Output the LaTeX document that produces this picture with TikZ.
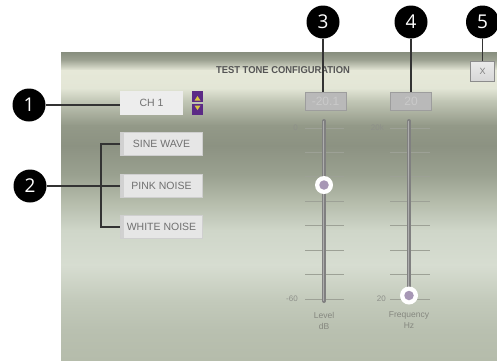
\documentclass[tikz,border=0pt]{standalone}
\usepackage{fontspec}
\setmainfont{Liberation Sans}
\newfontfamily\numfont{Open Sans}
\definecolor{txtgray}{HTML}{707070}
\definecolor{titlegray}{HTML}{555555}
\definecolor{btnfill}{HTML}{E6E6E6}
\definecolor{btnline}{HTML}{CFCFCF}
\definecolor{valbox}{HTML}{B9B9B9}
\definecolor{valtxt}{HTML}{CACACA}
\definecolor{tickc}{HTML}{9DA196}
\definecolor{scaletxt}{HTML}{8E908A}
\definecolor{lbltxt}{HTML}{85877F}
\definecolor{knobc}{HTML}{A797B5}
\definecolor{arrowpurple}{HTML}{5B2A86}
\definecolor{arrowyellow}{HTML}{D9C640}
\definecolor{conn}{HTML}{333333}
\definecolor{p0}{HTML}{878E7E}
\definecolor{p1}{HTML}{9EA393}
\definecolor{p2}{HTML}{E6E8D8}
\definecolor{p3}{HTML}{E3E6D6}
\definecolor{p4}{HTML}{C3C8B7}
\definecolor{p5}{HTML}{939988}
\definecolor{p6}{HTML}{8C9282}
\definecolor{p7}{HTML}{9AA190}
\definecolor{p8}{HTML}{B3BAA9}
\definecolor{p9}{HTML}{CFD6C9}
\definecolor{p10}{HTML}{D7DDD1}
\definecolor{p11}{HTML}{C3CABB}
\definecolor{p12}{HTML}{B9C0B0}
\definecolor{p13}{HTML}{B5BCAB}
\begin{document}
\begin{tikzpicture}[x=1pt,y=-1pt,
  marker/.style={circle,fill=black,minimum size=33pt,inner sep=0pt,text=white,font=\numfont\fontsize{19}{20}\selectfont},
  btn/.style={draw=btnline,line width=1pt,fill=btnfill,minimum width=82pt,minimum height=23pt,inner sep=0pt,text=txtgray,font=\fontsize{10.5}{12}\selectfont},
  valbx/.style={draw=valbox!85!black,line width=0.6pt,fill=valbox,minimum width=41pt,minimum height=18pt,inner sep=0pt,text=valtxt,font=\fontsize{12}{13}\selectfont},
  connector/.style={conn,line width=1.5pt},
  tickline/.style={tickc,line width=0.8pt},
  scalelbl/.style={text=scaletxt,font=\fontsize{8}{9}\selectfont,inner sep=0pt},
  lbl/.style={text=lbltxt,font=\fontsize{8.5}{10}\selectfont,inner sep=0pt},
  track/.style={line width=4pt,color=black!50,line cap=round},
  trackhl/.style={line width=1.2pt,color=black!32},
  knobout/.style={circle,fill=white,minimum size=18pt,inner sep=0pt},
  knobin/.style={circle,fill=knobc,minimum size=9.5pt,inner sep=0pt}
]
\useasboundingbox (0,0) rectangle (497,360);
% panel background
\shade[top color=p0,bottom color=p1] (61,52) rectangle (497,60.5);
\shade[top color=p1,bottom color=p2] (61,60) rectangle (497,70.5);
\shade[top color=p2,bottom color=p3] (61,70) rectangle (497,88.5);
\shade[top color=p3,bottom color=p4] (61,88) rectangle (497,100.5);
\shade[top color=p4,bottom color=p5] (61,100) rectangle (497,125.5);
\shade[top color=p5,bottom color=p6] (61,125) rectangle (497,145.5);
\shade[top color=p6,bottom color=p7] (61,145) rectangle (497,175.5);
\shade[top color=p7,bottom color=p8] (61,175) rectangle (497,200.5);
\shade[top color=p8,bottom color=p9] (61,200) rectangle (497,230.5);
\shade[top color=p9,bottom color=p10] (61,230) rectangle (497,265.5);
\shade[top color=p10,bottom color=p11] (61,265) rectangle (497,300.5);
\shade[top color=p11,bottom color=p12] (61,300) rectangle (497,330.5);
\shade[top color=p12,bottom color=p13] (61,330) rectangle (497,360);

% title
\node[text=titlegray,font=\bfseries\fontsize{10}{11}\selectfont,inner sep=0pt] (title) at (283,70) {\scalebox{0.94}[1]{TEST TONE CONFIGURATION}};

% left controls
\node[fill=black!7,minimum width=63pt,minimum height=24pt,inner sep=0pt,text=txtgray,font=\fontsize{10.5}{12}\selectfont] (ch1) at (151.5,103) {CH 1};
\node[fill=arrowpurple,minimum width=11pt,minimum height=11pt,inner sep=0pt] (up) at (197.5,96.5) {};
\node[fill=arrowpurple,minimum width=11pt,minimum height=11pt,inner sep=0pt] (down) at (197.5,109.5) {};
\fill[arrowyellow] ([yshift=-2.5pt]up.center) ++(-3,1.5) -- ++(6,0) -- ++(-3,-4.5) -- cycle;
\fill[arrowyellow] ([yshift=2.5pt]down.center) ++(-3,-1.5) -- ++(6,0) -- ++(-3,4.5) -- cycle;

\node[btn] (sine) at (161.5,144) {SINE WAVE};
\node[btn] (pink) at (161.5,185.5) {PINK NOISE};
\node[btn] (white) at (161.5,227) {WHITE NOISE};
\foreach \b in {sine,pink,white}{
  \fill[black!18] ([xshift=1pt,yshift=-1pt]\b.north west) rectangle ([xshift=4pt,yshift=1pt]\b.south west);
}

% value boxes and close button
\node[valbx] (lvlbox) at (325.5,101) {-20.1};
\node[valbx] (frqbox) at (411,101) {20};
\node[draw=black!45,line width=1pt,top color=black!8,bottom color=black!16,minimum width=24pt,minimum height=20pt,inner sep=0pt,text=black!50,font=\fontsize{9}{10}\selectfont] (xbtn) at (482.5,71.5) {X};

% slider ticks
\foreach \i in {0,...,7}{
  \pgfmathsetmacro{\yy}{128+\i*24.43}
  \draw[tickline] (305,\yy) -- (344,\yy);
  \draw[tickline] (390,\yy) -- (430,\yy);
}
\node[scalelbl,anchor=east] (l0) at (298,128) {0};
\node[scalelbl,anchor=east] (l60) at (298,299) {-60};
\node[scalelbl,anchor=east] (f20k) at (384,128) {20k};
\node[scalelbl,anchor=east] (f20) at (386,299) {20};

% tracks
\coordinate (ltop) at (324,121);
\coordinate (lbot) at (324,301);
\coordinate (ftop) at (409,121);
\coordinate (fbot) at (409,292);
\draw[track] (ltop) -- (lbot);
\draw[trackhl] ([xshift=-0.6pt]ltop) -- ([xshift=-0.6pt]lbot);
\draw[track] (ftop) -- (fbot);
\draw[trackhl] ([xshift=-0.6pt]ftop) -- ([xshift=-0.6pt]fbot);
\node[knobout] (lknob) at (324,185) {};
\node[knobin] at (lknob) {};
\node[knobout] (fknob) at (409,295.5) {};
\node[knobin] at (fknob) {};

\node[lbl] (lvl) at (324,315) {Level};
\node[lbl] (db) at (324,326) {dB};
\node[lbl] (frq) at (409,315) {Frequency};
\node[lbl] (hz) at (409,326) {Hz};

% markers
\node[marker] (c1) at (29,105) {1};
\node[marker] (c2) at (30,186) {2};
\node[marker] (c3) at (323,22) {3};
\node[marker] (c4) at (411,22) {4};
\node[marker] (c5) at (482.5,22) {5};

% connectors
\coordinate (bt) at (101,144);
\coordinate (bb) at (101,227);
\draw[connector] (c1.east) -- (c1.east -| ch1.west);
\draw[connector] (c2.east) -- (c2.east -| pink.west);
\draw[connector] (sine.west) -- (bt) -- (bb) -- (white.west);
\draw[connector] (c3.south) -- (c3.south |- lvlbox.north);
\draw[connector] (c4.south) -- (c4.south |- frqbox.north);
\draw[connector] (c5.south) -- (xbtn.north);
\end{tikzpicture}
\end{document}
